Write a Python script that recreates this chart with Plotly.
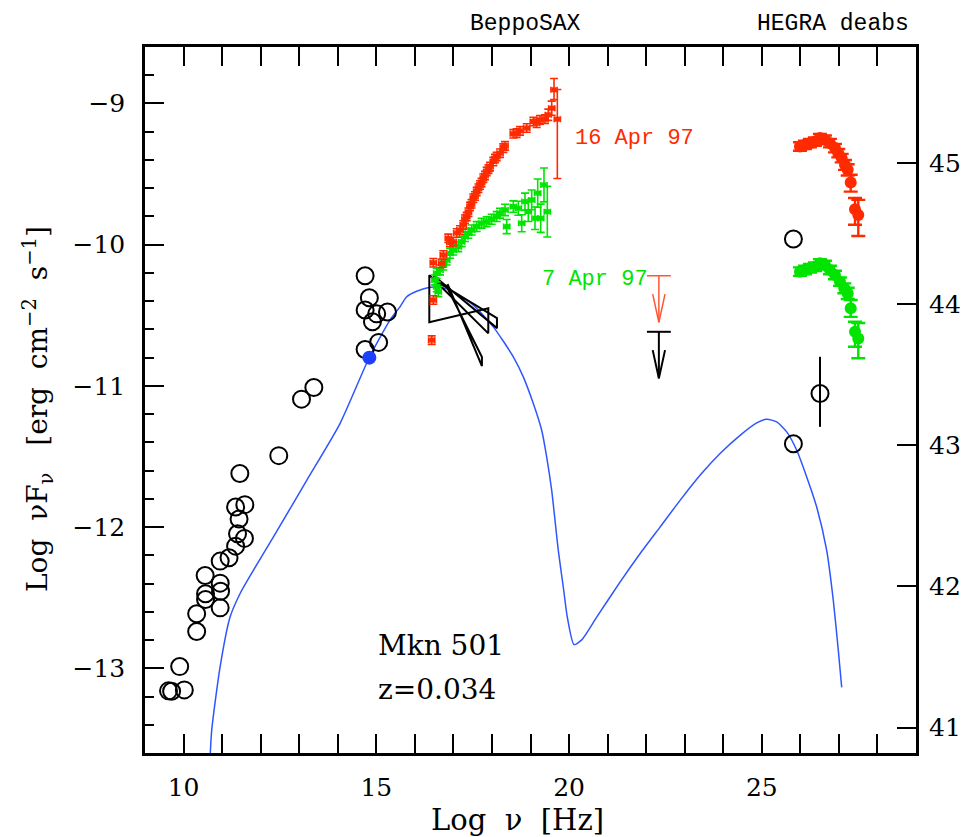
import plotly.graph_objects as go

# ---------------- data (log nu [Hz], log nuFnu [erg cm^-2 s^-1]) ----------------
# archival radio / optical / gamma points (open circles)
arch_x = [14.71, 14.82, 14.71, 15.01, 15.29, 14.90, 15.06, 14.71,
          13.38, 13.06, 12.47, 11.46, 11.59, 11.35, 11.44, 11.40, 11.58,
          11.35, 11.18, 10.95, 10.56, 10.95, 10.96, 10.57, 10.57, 10.95,
          10.34, 10.34, 9.90, 10.02, 9.69, 9.61, 25.82, 25.82]
arch_y = [-10.22, -10.376, -10.463, -10.49, -10.477, -10.546, -10.692, -10.742,
          -11.011, -11.094, -11.494, -11.621, -11.841, -11.858, -11.943, -12.047, -12.08,
          -12.135, -12.217, -12.241, -12.343, -12.397, -12.454, -12.472, -12.513, -12.572,
          -12.614, -12.74, -12.988, -13.153, -13.163, -13.16, -9.96, -11.41]

# gamma-ray point with error bar
gerr_x = [26.51]
gerr_y = [-11.054]
gerr_up = [0.26]
gerr_dn = [0.236]

# simultaneous optical point
opt_x = [14.82]
opt_y = [-10.80]

# BeppoSAX 16 Apr 97
sax16_x = [16.437, 16.479, 16.479, 16.697, 16.738, 16.868, 16.91, 16.997, 17.086, 17.171,
           17.256, 17.30, 17.345, 17.39, 17.431, 17.47, 17.516, 17.56, 17.604, 17.65,
           17.69, 17.73, 17.776, 17.82, 17.864, 17.91, 17.95, 18.035, 18.08, 18.123,
           18.209, 18.294, 18.339, 18.554, 18.64, 18.728, 18.902, 19.073, 19.16, 19.247,
           19.376, 19.462, 19.55, 19.61, 19.696]
sax16_y = [-10.676, -10.392, -10.128, -10.132, -10.073, -9.955, -9.985, -9.979, -9.917, -9.896,
           -9.86, -9.82, -9.801, -9.77, -9.73, -9.71, -9.671, -9.655, -9.624, -9.60,
           -9.577, -9.56, -9.529, -9.51, -9.482, -9.465, -9.447, -9.411, -9.39, -9.376,
           -9.352, -9.316, -9.30, -9.215, -9.21, -9.194, -9.174, -9.128, -9.14, -9.116,
           -9.111, -9.08, -9.033, -8.903, -9.111]
sax16_up = [0.03] * 41 + [0.04, 0.05, 0.08, 0.21]
sax16_dn = [0.03] * 41 + [0.04, 0.05, 0.07, 0.42]

# BeppoSAX 7 Apr 97
sax7_x = [16.523, 16.567, 16.567, 16.608, 16.652, 16.738, 16.826, 16.912, 16.997, 17.127,
          17.215, 17.301, 17.387, 17.475, 17.604, 17.734, 17.864, 17.993, 18.123, 18.209,
          18.339, 18.383, 18.554, 18.684, 18.772, 18.857, 18.943, 19.031, 19.117, 19.187,
          19.265, 19.35, 19.436]
sax7_y = [-10.25, -10.203, -10.298, -10.333, -10.179, -10.144, -10.109, -10.061, -10.038, -10.014,
          -9.979, -9.943, -9.919, -9.896, -9.872, -9.848, -9.837, -9.82, -9.801, -9.777,
          -9.754, -9.872, -9.73, -9.742, -9.848, -9.695, -9.766, -9.683, -9.813, -9.635,
          -9.813, -9.577, -9.766]
sax7_err = [0.035] * 20 + [0.04, 0.05, 0.04, 0.05, 0.06, 0.06, 0.07, 0.07, 0.08, 0.1,
                           0.1, 0.12, 0.18]

# HEGRA (deabsorbed) 16 Apr 97
heg16_x = [25.99, 26.119, 26.249, 26.379, 26.508, 26.638, 26.768, 26.898, 26.984, 27.072,
           27.158, 27.228, 27.306, 27.418, 27.503]
heg16_y = [-9.305, -9.293, -9.281, -9.27, -9.245, -9.257, -9.281, -9.316, -9.352, -9.387,
           -9.435, -9.47, -9.56, -9.749, -9.789]
heg16_up = [0.03, 0.03, 0.03, 0.03, 0.03, 0.03, 0.03, 0.03, 0.03, 0.03, 0.035, 0.04, 0.055, 0.08, 0.106]
heg16_dn = [0.03, 0.03, 0.03, 0.03, 0.03, 0.03, 0.03, 0.03, 0.03, 0.03, 0.035, 0.04, 0.064, 0.11, 0.149]

# HEGRA (deabsorbed) 7 Apr 97
heg7_x = [25.99, 26.119, 26.249, 26.379, 26.508, 26.638, 26.768, 26.898, 27.027, 27.14,
          27.228, 27.306, 27.418, 27.503]
heg7_y = [-10.191, -10.179, -10.167, -10.156, -10.132, -10.144, -10.179, -10.215, -10.262, -10.309,
          -10.345, -10.451, -10.617, -10.664]
heg7_up = [0.03, 0.03, 0.03, 0.03, 0.03, 0.03, 0.03, 0.03, 0.03, 0.035, 0.04, 0.059, 0.071, 0.109]
heg7_dn = [0.03, 0.03, 0.03, 0.03, 0.03, 0.03, 0.03, 0.03, 0.03, 0.035, 0.04, 0.06, 0.106, 0.14]

# upper limits (red: 16 Apr, black: 7 Apr)
ul_x = [22.33, 22.33]
ul_y = [-10.22, -10.617]
ul_color = ["#ff5533", "#000000"]

# X-ray bow-ties: x_lo, x_hi, left upper, left lower, right upper, right lower
bowties = [
    (16.375, 17.905, -10.215, -10.55, -10.451, -10.628),
    (16.50, 18.13, -10.222, -10.25, -10.52, -10.591),
    (16.85, 17.74, -10.28, -10.31, -10.796, -10.86),
]

# SSC model
model_x = [10.673, 10.73, 10.946, 11.205, 11.464, 11.81, 12.328, 13.195, 14.058, 14.818,
           15.355, 15.615, 15.789, 16.048, 16.393, 16.652, 16.997, 17.516, 18.035, 18.554,
           18.813, 19.073, 19.29, 19.42, 19.55, 19.636, 19.721, 19.851, 19.955, 20.128,
           20.328, 20.717, 21.322, 21.84, 22.36, 22.879, 23.398, 23.917, 24.436, 24.868,
           25.128, 25.387, 25.646, 25.906, 26.165, 26.424, 26.683, 26.855, 26.985, 27.073]
model_y = [-13.726, -13.44, -12.993, -12.638, -12.472, -12.307, -12.071, -11.669, -11.267, -10.799,
           -10.534, -10.44, -10.369, -10.33, -10.302, -10.302, -10.333, -10.428, -10.582, -10.794,
           -10.936, -11.125, -11.314, -11.504, -11.74, -11.952, -12.165, -12.426, -12.638, -12.832,
           -12.799, -12.638, -12.39, -12.189, -12.0, -11.811, -11.633, -11.479, -11.35, -11.262,
           -11.236, -11.255, -11.326, -11.456, -11.645, -11.858, -12.165, -12.52, -12.874, -13.135]

LUM_OFFSET = 54.42  # log(4 pi d_L^2)
YR = [-13.6, -8.6]
XR = [9, 29]

RED = "#ff2a00"
GREEN = "#00e400"
BLUE = "#2f55ff"
SERIF = "DejaVu Serif"
MONO = "Liberation Mono"

fig = go.Figure()

# model
fig.add_trace(go.Scatter(x=model_x, y=model_y, mode="lines", line_shape="spline",
                         line=dict(color=BLUE, width=1.5, smoothing=0.6), hoverinfo="skip"))

# bowties
for (xl, xh, lu, ll, ru, rl) in bowties:
    fig.add_trace(go.Scatter(x=[xl, xh, xh, xl, xl], y=[lu, rl, ru, ll, lu], mode="lines",
                             line=dict(color="black", width=2)))

# BeppoSAX spectra
fig.add_trace(go.Scatter(x=sax7_x, y=sax7_y, mode="markers",
                         marker=dict(symbol="square", size=5, color=GREEN),
                         error_x=dict(type="constant", value=0.08, color=GREEN, thickness=1.6, width=3),
                         error_y=dict(type="data", array=sax7_err, color=GREEN, thickness=1.6, width=4)))
fig.add_trace(go.Scatter(x=sax16_x, y=sax16_y, mode="markers",
                         marker=dict(symbol="square", size=5, color=RED),
                         error_x=dict(type="constant", value=0.08, color=RED, thickness=1.6, width=3),
                         error_y=dict(type="data", array=sax16_up, arrayminus=sax16_dn,
                                      color=RED, thickness=1.6, width=4)))

# HEGRA spectra
fig.add_trace(go.Scatter(x=heg16_x, y=heg16_y, mode="markers",
                         marker=dict(symbol="circle", size=12, color=RED),
                         error_y=dict(type="data", array=heg16_up, arrayminus=heg16_dn,
                                      color=RED, thickness=2.4, width=7)))
fig.add_trace(go.Scatter(x=heg7_x, y=heg7_y, mode="markers",
                         marker=dict(symbol="circle", size=12, color=GREEN),
                         error_y=dict(type="data", array=heg7_up, arrayminus=heg7_dn,
                                      color=GREEN, thickness=2.4, width=7)))

# upper limits
CAP = 0.31
SHAFT = 0.33
HEAD_W = 0.16
HEAD_H = 0.2
for ux, uy, uc in zip(ul_x, ul_y, ul_color):
    lw = 1.5 if uc != "#000000" else 2
    fig.add_trace(go.Scatter(x=[ux - CAP, ux + CAP, None, ux, ux], y=[uy, uy, None, uy, uy - SHAFT],
                             mode="lines", line=dict(color=uc, width=lw)))
    fig.add_trace(go.Scatter(x=[ux - HEAD_W, ux, ux + HEAD_W],
                             y=[uy - SHAFT + HEAD_H, uy - SHAFT, uy - SHAFT + HEAD_H],
                             mode="lines", line=dict(color=uc, width=lw)))

# archival
fig.add_trace(go.Scatter(x=gerr_x, y=gerr_y, mode="markers",
                         marker=dict(symbol="circle-open", size=17, color="black", line=dict(width=2)),
                         error_y=dict(type="data", array=gerr_up, arrayminus=gerr_dn,
                                      color="black", thickness=2, width=0)))
fig.add_trace(go.Scatter(x=arch_x, y=arch_y, mode="markers",
                         marker=dict(symbol="circle-open", size=17, color="black", line=dict(width=2))))
fig.add_trace(go.Scatter(x=opt_x, y=opt_y, mode="markers",
                         marker=dict(symbol="circle", size=14, color="#1f3fff")))

# luminosity axis (dummy trace on y2)
fig.add_trace(go.Scatter(x=[XR[0]], y=[YR[0] + LUM_OFFSET], yaxis="y2", mode="markers",
                         marker=dict(opacity=0), hoverinfo="skip"))

tickfont = dict(family=SERIF, size=25, color="black")
fig.update_layout(
    width=973, height=837,
    margin=dict(l=145, r=57, t=47, b=84),
    paper_bgcolor="white", plot_bgcolor="white",
    showlegend=False,
    xaxis=dict(range=XR, showgrid=False, zeroline=False,
               showline=True, linewidth=2.5, linecolor="black", mirror="allticks",
               ticks="inside", ticklen=19, tickwidth=2, tickcolor="black",
               tickmode="array", tickvals=[10, 15, 20, 25], ticktext=["10", "15", "20", "25"],
               minor=dict(ticks="inside", ticklen=9, tickwidth=2, tickcolor="black", dtick=1,
                          tick0=0, showgrid=False),
               tickfont=tickfont, ticklabelstandoff=10),
    yaxis=dict(range=YR, showgrid=False, zeroline=False,
               showline=True, linewidth=2.5, linecolor="black", mirror=True,
               ticks="inside", ticklen=19, tickwidth=2, tickcolor="black",
               tickmode="array", tickvals=[-13, -12, -11, -10, -9],
               minor=dict(ticks="inside", ticklen=9, tickwidth=2, tickcolor="black", dtick=0.2,
                          tick0=-13, showgrid=False),
               tickfont=tickfont, ticklabelstandoff=12),
    yaxis2=dict(range=[YR[0] + LUM_OFFSET, YR[1] + LUM_OFFSET], overlaying="y", side="right",
                showgrid=False, zeroline=False, showline=False,
                ticks="inside", ticklen=19, tickwidth=2, tickcolor="black",
                tickmode="array", tickvals=[41, 42, 43, 44, 45],
                tickfont=tickfont, ticklabelstandoff=12),
)

ann = []
ann.append(dict(text="Log  νF<sub>ν</sub>   [erg  cm<sup>−2</sup>  s<sup>−1</sup>]",
                xref="paper", yref="paper", x=-0.139, y=0.487, textangle=-90,
                showarrow=False, xanchor="center", yanchor="middle",
                font=dict(family=SERIF, size=28, color="black")))
ann.append(dict(text="Log  ν  [Hz]", xref="paper", yref="paper", x=0.4825, y=-0.095,
                showarrow=False, xanchor="center", yanchor="middle",
                font=dict(family=SERIF, size=29, color="black")))
ann.append(dict(text="BeppoSAX", xref="paper", yref="paper", x=0.493, y=1.033,
                showarrow=False, xanchor="center", yanchor="middle",
                font=dict(family=MONO, size=23, color="black")))
ann.append(dict(text="HEGRA deabs", xref="paper", yref="paper", x=0.892, y=1.033,
                showarrow=False, xanchor="center", yanchor="middle",
                font=dict(family=MONO, size=23, color="black")))
ann.append(dict(text="16 Apr 97", xref="x", yref="y", x=20.1, y=-9.25,
                showarrow=False, xanchor="left", yanchor="middle",
                font=dict(family=MONO, size=22, color=RED)))
ann.append(dict(text="7 Apr 97", xref="x", yref="y", x=19.25, y=-10.25,
                showarrow=False, xanchor="left", yanchor="middle",
                font=dict(family=MONO, size=22, color=GREEN)))
ann.append(dict(text="Mkn 501", xref="x", yref="y", x=15.0, y=-12.84,
                showarrow=False, xanchor="left", yanchor="middle",
                font=dict(family=SERIF, size=28, color="black")))
ann.append(dict(text="z=0.034", xref="x", yref="y", x=15.0, y=-13.15,
                showarrow=False, xanchor="left", yanchor="middle",
                font=dict(family=SERIF, size=28, color="black")))
fig.update_layout(annotations=ann)

fig.write_html("out.html")
